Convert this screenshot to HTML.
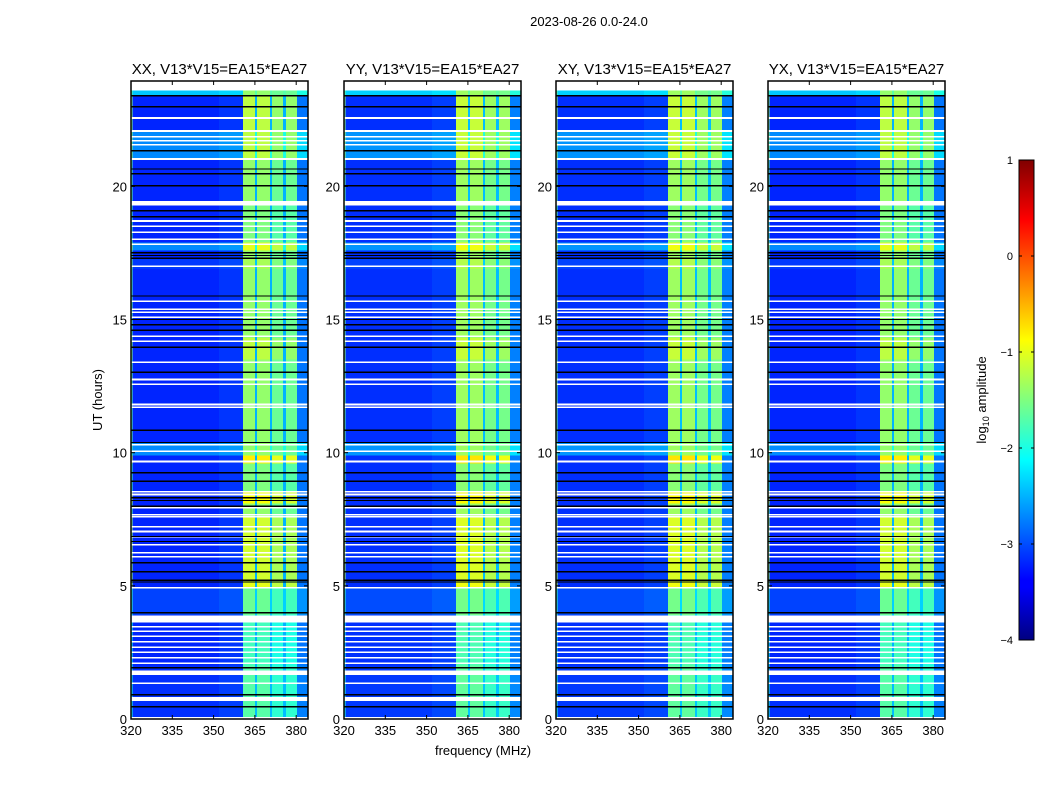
<!DOCTYPE html>
<html><head><meta charset="utf-8"><style>
body{margin:0;background:#fff;}
svg{display:block;font-family:"Liberation Sans",sans-serif;}
</style></head><body>
<svg id="fig" width="1050" height="800" viewBox="0 0 1050 800" xmlns="http://www.w3.org/2000/svg">
<rect width="1050" height="800" fill="#fff"/>
<defs>
<linearGradient id="jet" x1="0" y1="1" x2="0" y2="0">
<stop offset="0" stop-color="#000080"/><stop offset="0.11" stop-color="#0000ff"/><stop offset="0.125" stop-color="#0000ff"/>
<stop offset="0.375" stop-color="#00ffff"/><stop offset="0.625" stop-color="#ffff00"/><stop offset="0.875" stop-color="#ff0000"/><stop offset="1" stop-color="#800000"/>
</linearGradient>
</defs>
<text x="589" y="26" font-size="13" text-anchor="middle">2023-08-26 0.0-24.0</text>
<g id="panels"></g>
<text x="483" y="755" font-size="13" text-anchor="middle">frequency (MHz)</text>
<text transform="translate(102,400) rotate(-90)" font-size="13" text-anchor="middle">UT (hours)</text>
<g id="cbar"></g>
</svg>
<script>
const panelTitles = ["XX, V13*V15=EA15*EA27","YY, V13*V15=EA15*EA27","XY, V13*V15=EA15*EA27","YX, V13*V15=EA15*EA27"];
const panelOffsets = [0, 0.05, 0.05, 0];
const freqEdges = [320,320.6,352,360.7,365.0,365.8,370.5,371.2,375.2,376.3,380.3,384.3];
const freqLevels = [-1.7,-3.2,-3.12,-1.4,-2.5,-1.4,-2.5,-1.6,-2.5,-1.6,-2.8];
const timeStarts = [0,2.0,3.9,4.9,5.1,7.6,8.1,8.5,9.6,9.9,10.4,13.5,14.3,16.9,17.3,17.6,17.9,19.3,21.0,22.1,23.4];
const timeEnds   = [2.0,3.9,4.9,5.1,7.6,8.1,8.5,9.6,9.9,10.4,13.5,14.3,16.9,17.3,17.6,17.9,19.3,21.0,22.1,23.4,23.75];
const bgOffsets  = [0.05,0,0.15,0,0,0,0,0,0,0.5,0,0,0,0.1,0,0.5,0,0,0.5,0,0.8];
const bandOffsets= [-0.3,-0.4,-0.2,0.4,0.3,0,0.5,-0.1,0.6,0,0,0.2,0,0.1,0,0.4,-0.1,0,0.2,0.2,0];
const whiteRows = [23.75,22.57,22.08,21.86,21.71,21.56,21.03,19.4,19.34,18.7,18.5,18.28,18.02,17.83,17.0,15.69,15.39,15.27,15.09,14.37,14.18,13.39,12.75,12.57,11.81,11.7,10.3,10.05,9.67,8.54,8.43,7.94,7.67,7.6,7.22,7.04,6.85,6.55,6.25,6.1,4.93,3.84,3.76,3.68,3.46,3.3,3.1,2.9,2.7,2.5,2.3,2.1,1.77,1.7,1.35,0.79,0.72,0.04];
const whiteWidths = [0.3,0.06,0.06,0.06,0.06,0.06,0.06,0.12,0.12,0.06,0.06,0.06,0.06,0.06,0.06,0.06,0.06,0.06,0.06,0.06,0.06,0.06,0.06,0.06,0.06,0.06,0.06,0.06,0.06,0.06,0.06,0.06,0.06,0.06,0.06,0.06,0.06,0.06,0.06,0.06,0.06,0.1,0.1,0.1,0.06,0.06,0.06,0.06,0.06,0.06,0.06,0.06,0.1,0.1,0.06,0.08,0.08,0.06];
const blackRows = [23.4,22.99,21.33,20.65,20.47,20.02,19.08,18.85,17.5,17.4,17.3,15.88,15.0,14.8,14.6,13.96,13.02,10.84,10.38,9.25,8.92,8.3,8.2,7.98,6.85,6.66,5.87,5.53,5.2,5.14,3.99,1.92,0.9,0.45];
const xTicks = [320,335,350,365,380];
const yTicks = [0,5,10,15,20];
const cbTicks = [1,0,-1,-2,-3,-4];
const cbLabels = ["1","0","\u22121","\u22122","\u22123","\u22124"];

const NS="http://www.w3.org/2000/svg";
const panelX=[131,344,556,768], PW=177, PT=81, PB=719;
const fx=(f,i)=>panelX[i]+(f-320)*(41.3/15);
const ty=h=>PB-h*26.63;
function jet(v){let t=(v+4)/5;t=Math.max(0,Math.min(1,t));
 const c=x=>Math.round(255*Math.max(0,Math.min(1,x)));
 return `rgb(${c(1.5-Math.abs(4*t-3))},${c(1.5-Math.abs(4*t-2))},${c(1.5-Math.abs(4*t-1))})`;}
function mk(tag,attrs,parent){const e=document.createElementNS(NS,tag);for(const k in attrs)e.setAttribute(k,attrs[k]);parent.appendChild(e);return e;}
const root=document.getElementById('panels');
for(let p=0;p<4;p++){
 const g=mk('g',{},root);
 
 
 const t=mk('text',{x:panelX[p]+PW/2,y:74,'font-size':15,'text-anchor':'middle'},g);
 t.textContent=panelTitles[p];
 
 
 const hm=mk('g',{'shape-rendering':'crispEdges'},g);
 
 
 for(let s=0;s<timeStarts.length;s++){
  for(let f=0;f<freqLevels.length;f++){
   const band=freqLevels[f]>-2;
   const v=freqLevels[f]+(band?bandOffsets[s]:bgOffsets[s])+panelOffsets[p];
   const x0=fx(freqEdges[f],p),x1=fx(freqEdges[f+1],p),y0=ty(timeEnds[s]),y1=ty(timeStarts[s]);
   const r=mk('rect',{x:x0,y:y0,width:x1-x0,height:y1-y0,fill:jet(v)},hm);
   
   
  }
 }
 for(let i=0;i<whiteRows.length;i++){
  const r=mk('rect',{x:panelX[p],y:ty(whiteRows[i]+whiteWidths[i]/2),width:PW,height:Math.max(1,whiteWidths[i]*26.63),fill:'#fff'},hm);
  
  
 }
 for(let i=0;i<blackRows.length;i++){
  const r=mk('rect',{x:panelX[p],y:ty(blackRows[i]+0.03),width:PW,height:1.4,fill:'#000'},hm);
  
  
 }
 const fr=mk('rect',{x:panelX[p],y:PT,width:PW,height:PB-PT,fill:'none',stroke:'#000','stroke-width':1.5},g);
 
 
 for(const xv of xTicks){const x=fx(xv,p);
  mk('line',{x1:x,x2:x,y1:PB,y2:PB-4,stroke:'#000'},g);mk('line',{x1:x,x2:x,y1:PT,y2:PT+4,stroke:'#000'},g);
  const l=mk('text',{x:x,y:PB+16,'font-size':13,'text-anchor':'middle'},g);l.textContent=xv;
  
  }
 for(const yv of yTicks){const y=ty(yv);
  mk('line',{x1:panelX[p],x2:panelX[p]+4,y1:y,y2:y,stroke:'#000'},g);mk('line',{x1:panelX[p]+PW,x2:panelX[p]+PW-4,y1:y,y2:y,stroke:'#000'},g);
  const l=mk('text',{x:panelX[p]-4,y:y+5,'font-size':13,'text-anchor':'end'},g);l.textContent=yv;
  
  }
}
const cb=document.getElementById('cbar');
const CX=1019,CW=15,CT=160,CB=640;
mk('rect',{x:CX,y:CT,width:CW,height:CB-CT,fill:'url(#jet)',stroke:'#000','stroke-width':1},cb);
cbTicks.forEach((v,i)=>{const y=CT+(1-v)*(CB-CT)/5;
 mk('line',{x1:CX,x2:CX+3,y1:y,y2:y,stroke:'#000'},cb);mk('line',{x1:CX+CW,x2:CX+CW-3,y1:y,y2:y,stroke:'#000'},cb);
 const l=mk('text',{x:1013,y:y+4,'font-size':11,'text-anchor':'end'},cb);l.textContent=cbLabels[i];
 
 });
const cl=mk('text',{transform:'translate(986,400) rotate(-90)','font-size':13,'text-anchor':'middle'},cb);
cl.innerHTML='log<tspan font-size="9" dy="3">10</tspan><tspan dy="-3"> amplitude</tspan>';


</script>
</body></html>
